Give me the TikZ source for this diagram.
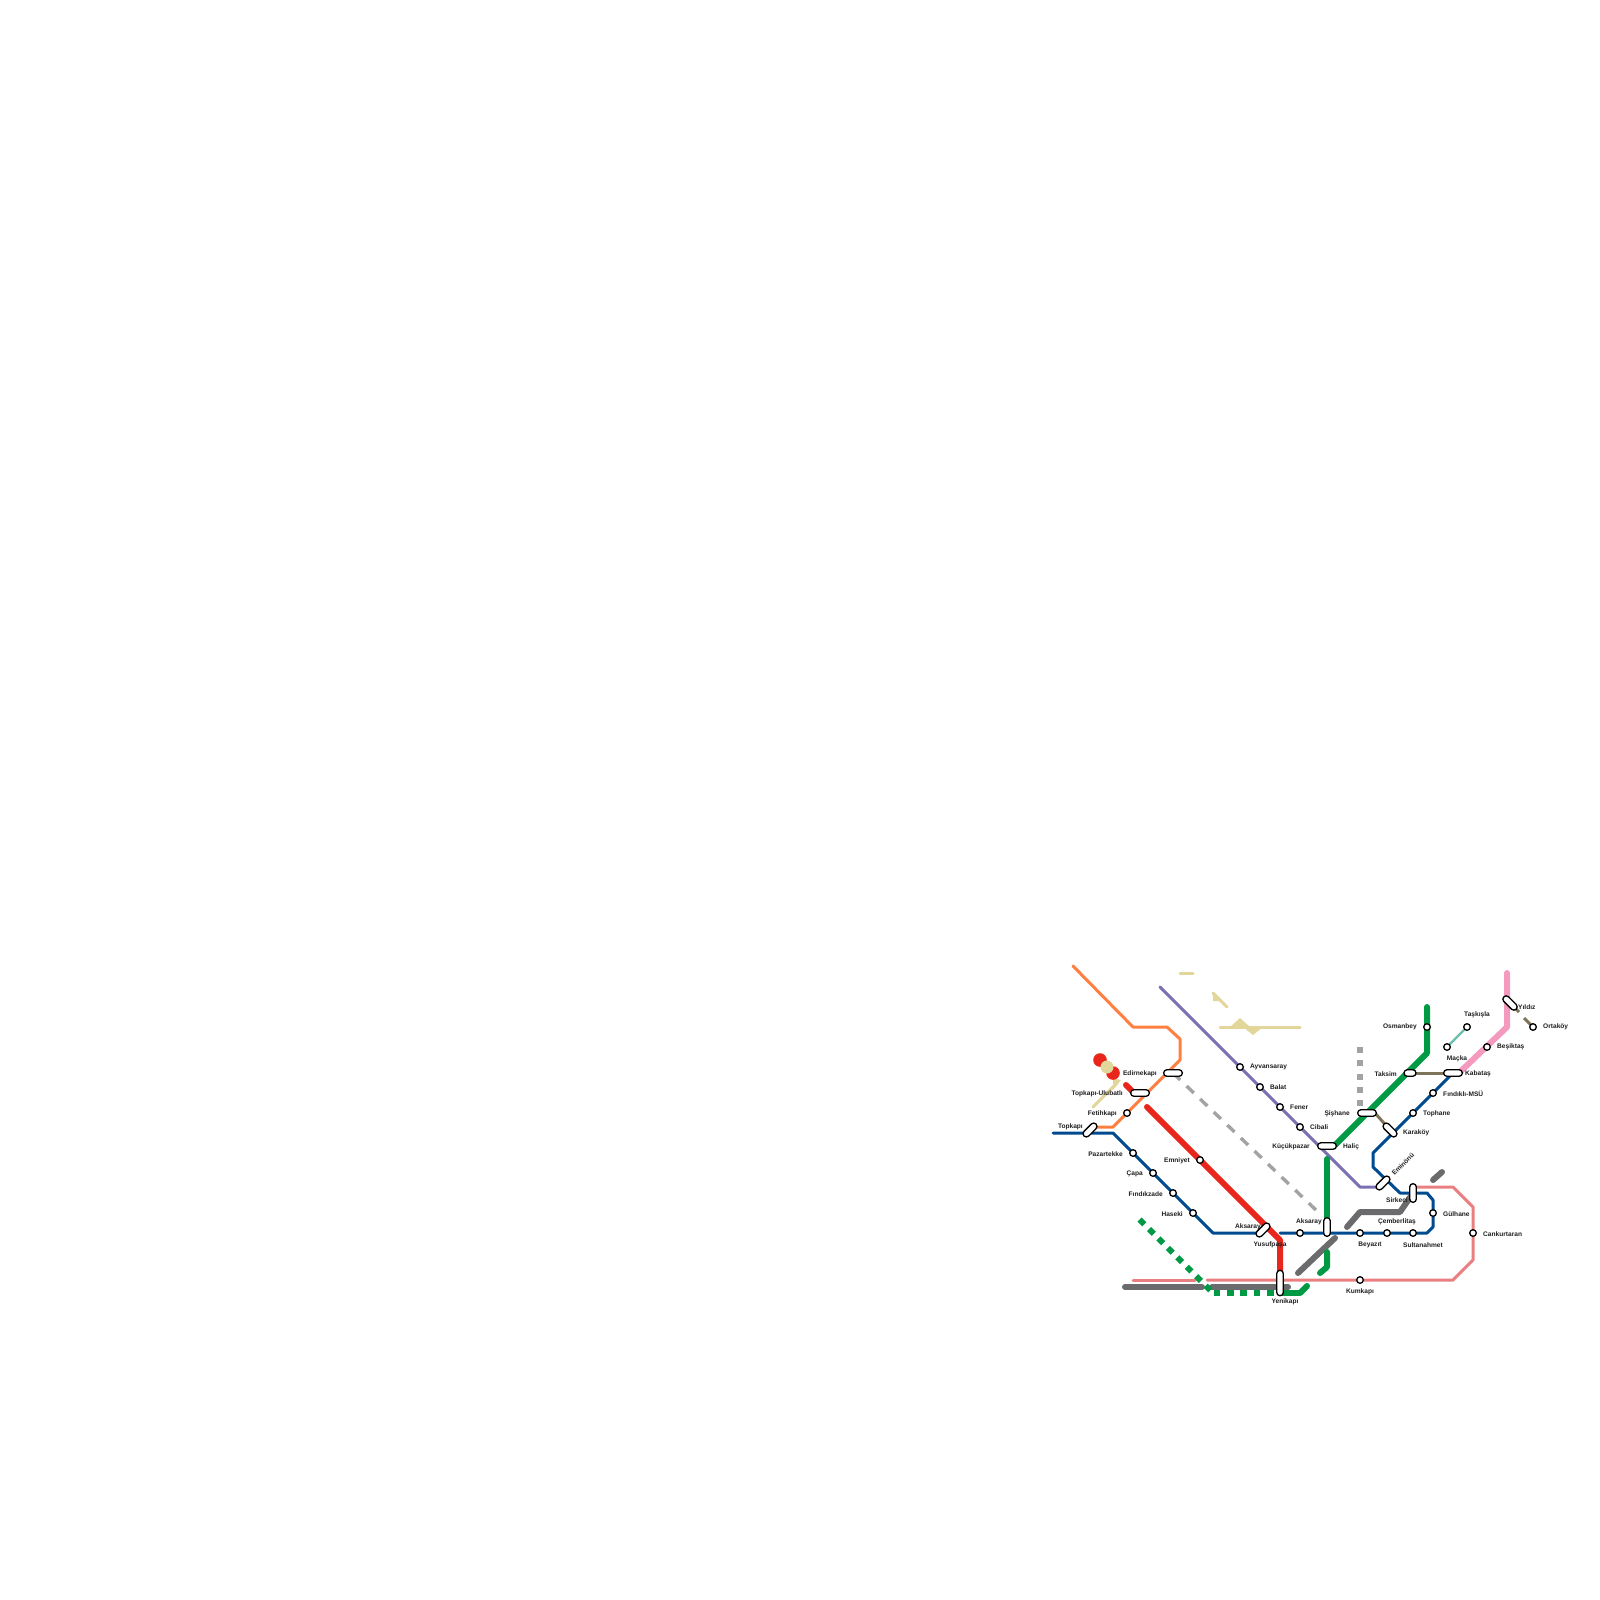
\documentclass[tikz,border=0pt]{standalone}
\usepackage{fontspec}
\setmainfont{Liberation Sans}
\usetikzlibrary{shapes.misc,backgrounds}
\definecolor{cblue}{HTML}{004A8F}
\definecolor{cgreen}{HTML}{009A44}
\definecolor{cred}{HTML}{E8261C}
\definecolor{corange}{HTML}{FF7F41}
\definecolor{cpurple}{HTML}{7A6FB0}
\definecolor{cpink}{HTML}{F59ABF}
\definecolor{csalmon}{HTML}{EA7F82}
\definecolor{cgrey}{HTML}{6B6B6E}
\definecolor{cdash}{HTML}{A3A3A3}
\definecolor{cbeige}{HTML}{E3D69A}
\definecolor{cbrown}{HTML}{7F7459}
\definecolor{cteal}{HTML}{6BBFB1}
\tikzset{
 stn/.style={circle,draw=black,fill=white,line width=1.3pt,minimum size=6.6pt,inner sep=0pt},
 capsule/.style={rounded rectangle,draw=black,fill=white,line width=1.3pt,minimum width=#1,minimum height=6.6pt,inner sep=0pt},
 lbl/.style={inner sep=0pt,yshift=-1pt,font=\fontsize{6.6}{7}\selectfont\bfseries,text=black!88},
 lr/.style={lbl,anchor=west},
 ll/.style={lbl,anchor=east},
 lc/.style={lbl,anchor=center},
 ln/.style={line cap=round,line join=round},
 orangeline/.style={ln,draw=corange,line width=3pt},
 blueline/.style={ln,draw=cblue,line width=3pt},
 purpleline/.style={ln,draw=cpurple,line width=3pt},
 salmonline/.style={ln,draw=csalmon,line width=3pt},
 brownline/.style={ln,draw=cbrown,line width=3pt},
 beigeline/.style={ln,draw=cbeige,line width=3pt},
 redline/.style={ln,draw=cred,line width=6pt},
 greenline/.style={ln,draw=cgreen,line width=6pt},
 greyline/.style={ln,draw=cgrey,line width=6pt},
 pinkline/.style={ln,draw=cpink,line width=6pt},
}
\begin{document}
\begin{tikzpicture}[x=1pt,y=-1pt]
\useasboundingbox (0,0) rectangle (1600,1600);
% stations
\node[stn] (ayv) at (1240,1067) {};
\node[stn] (bal) at (1260,1087) {};
\node[stn] (fen) at (1280,1107) {};
\node[stn] (cib) at (1300,1127) {};
\node[stn] (fet) at (1127,1113) {};
\node[stn] (paz) at (1133,1153) {};
\node[stn] (cap) at (1153,1173) {};
\node[stn] (fin) at (1173,1193) {};
\node[stn] (has) at (1193,1213) {};
\node[stn] (emn) at (1200,1160) {};
\node[stn] (aks) at (1300,1233) {};
\node[stn] (bey) at (1360,1233) {};
\node[stn] (cem) at (1387,1233) {};
\node[stn] (sul) at (1413,1233) {};
\node[stn] (gul) at (1433,1213) {};
\node[stn] (can) at (1473,1233) {};
\node[stn] (kum) at (1360,1280) {};
\node[stn] (top) at (1413,1113) {};
\node[stn] (fmsu) at (1433,1093) {};
\node[stn] (osm) at (1427,1027) {};
\node[stn] (tas) at (1467,1027) {};
\node[stn] (mac) at (1447,1047) {};
\node[stn] (bes) at (1487,1047) {};
\node[stn] (ort) at (1533,1027) {};
% interchanges
\node[capsule=18.7pt] (edi) at (1173,1073) {};
\node[capsule=18.7pt] (ulu) at (1140,1093) {};
\node[capsule=17pt,rotate=45] (tpk) at (1090,1130) {};
\node[capsule=17pt,rotate=45] (aksY) at (1263,1230) {};
\node[capsule=25.4pt,rotate=90] (yen) at (1280,1283) {};
\node[capsule=18.7pt,rotate=90] (aksM) at (1327,1227) {};
\node[capsule=18.7pt] (hal) at (1327,1146) {};
\node[capsule=18.7pt] (sis) at (1367,1113) {};
\node[capsule=17pt,rotate=-45] (kar) at (1390,1130) {};
\node[capsule=17pt,rotate=45] (emi) at (1383,1183) {};
\node[capsule=18.7pt,rotate=90] (sir) at (1413,1193) {};
\node[capsule=12pt] (tak) at (1410,1073) {};
\node[capsule=18.7pt] (kab) at (1453,1073) {};
\node[capsule=17.5pt,rotate=-45] (yil) at (1510,1003) {};
% free line ends
\coordinate (oS) at (1073,966);
\coordinate (oA) at (1133,1027);
\coordinate (oB) at (1167,1027);
\coordinate (oC) at (1180,1039);
\coordinate (oD) at (1180,1060);
\coordinate (oE) at (1113,1127);
\coordinate (pS) at (1160,987);
\coordinate (pA) at (1360,1187);
\coordinate (bS) at (1053,1133);
\coordinate (bA) at (1113,1133);
\coordinate (bB) at (1213,1233);
\coordinate (bC) at (1280,1233);
\coordinate (bD) at (1427,1233);
\coordinate (bE) at (1433,1227);
\coordinate (bF) at (1433,1200);
\coordinate (bG) at (1427,1193);
\coordinate (bH) at (1400,1193);
\coordinate (bI) at (1373,1167);
\coordinate (bJ) at (1373,1153);
\coordinate (rS) at (1147,1107);
\coordinate (rA) at (1280,1240);
\coordinate (rdA) at (1126,1085);
\coordinate (rdB) at (1134,1093);
\coordinate (sS) at (1133,1280);
\coordinate (sE) at (1195,1280);
\coordinate (sF) at (1207,1280);
\coordinate (sA) at (1453,1280);
\coordinate (sB) at (1473,1260);
\coordinate (sC) at (1473,1207);
\coordinate (sD) at (1453,1187);
\coordinate (gA) at (1427,1007);
\coordinate (gB) at (1427,1053);
\coordinate (gI) at (1335,1145);
\coordinate (gC) at (1327,1159);
\coordinate (gD) at (1327,1252);
\coordinate (gE) at (1327,1267);
\coordinate (gF) at (1320,1273);
\coordinate (gG) at (1300,1293);
\coordinate (gH) at (1307,1286);
\coordinate (dS) at (1139.6,1219.6);
\coordinate (dA) at (1211,1291);
\coordinate (dC) at (1213.7,1293);
\coordinate (dB) at (1274,1293);
\coordinate (grA) at (1298,1273);
\coordinate (grB) at (1335,1238);
\coordinate (grC) at (1347,1227);
\coordinate (grD) at (1360,1212);
\coordinate (grE) at (1400,1212);
\coordinate (grF) at (1442,1172);
\coordinate (grG) at (1433,1180);
\coordinate (grH) at (1125,1287);
\coordinate (grI) at (1202,1287);
\coordinate (grJ) at (1212,1287);
\coordinate (grK) at (1288,1287);
\coordinate (pkS) at (1507,973);
\coordinate (pkA) at (1507,1027);
\coordinate (pkB) at (1461,1071);
\coordinate (dgA) at (1317,1211);
\coordinate (sqA) at (1360,1047);
\coordinate (sqB) at (1360,1107);
\coordinate (ybA) at (1180,973);
\coordinate (ybB) at (1193,973);
\coordinate (ybC) at (1220,1027);
\coordinate (ybD) at (1300,1027);
\coordinate (ybE) at (1093,1107);
\coordinate (ybF) at (1117,1083);
\coordinate (ybG) at (1213,993);
\coordinate (ybH) at (1227,1007);
\coordinate (brB) at (1519,1012);
\coordinate (brC) at (1524,1018);
% lines
\begin{scope}[on background layer]
\draw[orangeline] (oS)--(oA)--(oB)--(oC)--(oD)--(oE)--(oE -| tpk.center);
\draw[purpleline] (pS)--(pA)--(pA -| emi.center);
\draw[blueline] (bS)--(bA)--(bB)--(bB -| aksY.center);
\draw[blueline] (bC)--(bD)--(bE)--(bF)--(bG)--(bH)--(bI)--(bJ)--(kab.center);
\draw[salmonline] (sS)--(sE);
\draw[salmonline] (sF)--(kum.center)--(sA)--(sB)--(sC)--(sD)--(sD -| sir.center);
\draw[draw=cdash,line width=3.4pt,dash pattern=on 10pt off 8.8pt] (edi.center)--(dgA);
\draw[draw=cdash,line width=6.5pt,dash pattern=on 6pt off 7.33pt] (sqA)--(sqB);
\draw[greyline] (grH)--(grI);
\draw[greyline] (grJ)--(grK);
\draw[greyline] (grA)--(grB);
\draw[greyline] (grC)--(grD)--(grE)--(sir.center);
\draw[greyline] (grG)--(grF);
\draw[draw=cgreen,line width=6pt,dash pattern=on 6.67pt off 6.67pt] (dS)--(dA);
\draw[draw=cgreen,line width=6pt,dash pattern=on 6.67pt off 6.67pt] (dC)--(dB);
\draw[greenline,line cap=butt] (yen.center |- gG)--(gG);
\draw[greenline] (gG)--(gH);
\draw[greenline] (gA)--(gB)--(gI);
\draw[greenline] (gC)--(aksM.center);
\draw[greenline] (gD)--(gE)--(gF);
\draw[redline] (rS)--(rA)--(yen.center);
\draw[ln,draw=cred,line width=6pt] (rdA)--(rdB);
\fill[cbeige] (1213,992)--(1213,1001)--(1219,1001)--cycle;
\draw[beigeline] (ybG)--(ybH);
\draw[beigeline] (ybA)--(ybB);
\draw[beigeline] (ybC)--(ybD);
\fill[cbeige] (1230,1027)--(1240,1018)--(1250,1027)--cycle;
\fill[cbeige] (1243,1027)--(1253,1035)--(1263,1027)--cycle;
\draw[beigeline] (ybE)--(ybF);
\fill[cbeige] (1113,1078)--(1121,1080)--(1113,1090)--cycle;
\fill[cred] (1100,1060) circle (6.8pt);
\fill[cred] (1113,1073) circle (6.8pt);
\fill[cbeige] (1107,1067) circle (6.5pt);
\draw[pinkline] (pkS)--(pkA)--(pkB);
\draw[brownline] (tak.center)--(kab.center);
\draw[brownline] (sis.center)--(1375,1113)--(kar.center);
\draw[brownline,line cap=butt] (yil.center)--(brB);
\draw[brownline,line cap=butt] (brC)--(ort.center);
\draw[ln,draw=cteal,line width=2.4pt] (tas.center)--(mac.center);
\end{scope}
% labels
\node[lr] (lAyv) at (1250,1066) {Ayvansaray};
\node[lr] (lBal) at (1270,1086) {Balat};
\node[lr] (lFen) at (1290,1106) {Fener};
\node[lr] (lCib) at (1310,1126) {Cibali};
\node[ll] (lKuc) at (1310,1146) {Küçükpazar};
\node[lr] (lHal) at (1343,1146) {Haliç};
\node[ll] (lEdi) at (1157,1073) {Edirnekapı};
\node[ll] (lUlu) at (1123,1093) {Topkapı-Ulubatlı};
\node[ll] (lFet) at (1117,1113) {Fetihkapı};
\node[ll] (lTpk) at (1083,1126) {Topkapı};
\node[ll] (lPaz) at (1123,1153) {Pazartekke};
\node[ll] (lCap) at (1143,1173) {Çapa};
\node[ll] (lFin) at (1163,1193) {Fındıkzade};
\node[ll] (lHas) at (1183,1213) {Haseki};
\node[ll] (lEmn) at (1190,1160) {Emniyet};
\node[ll] (lAks) at (1261,1226) {Aksaray};
\node[lc] (lYus) at (1270,1244) {Yusufpaşa};
\node[lc] (lYen) at (1285,1301) {Yenikapı};
\node[ll] (lAksM) at (1322,1221) {Aksaray};
\node[lc] (lBey) at (1370,1244) {Beyazıt};
\node[lc] (lSul) at (1423,1244) {Sultanahmet};
\node[lc] (lCem) at (1397,1221) {Çemberlitaş};
\node[lc] (lKum) at (1360,1291) {Kumkapı};
\node[ll] (lSir) at (1408,1199) {Sirkeci};
\node[lr] (lGul) at (1443,1213) {Gülhane};
\node[lr] (lCan) at (1483,1233) {Cankurtaran};
\node[lc,rotate=45] (lEmi) at (1403,1163) {Eminönü};
\node[lr] (lKar) at (1403,1132) {Karaköy};
\node[lr] (lTop) at (1423,1113) {Tophane};
\node[lr] (lFms) at (1443,1093) {Fındıklı-MSÜ};
\node[lr] (lKab) at (1465,1073) {Kabataş};
\node[ll] (lTak) at (1397,1073) {Taksim};
\node[ll] (lSis) at (1350,1113) {Şişhane};
\node[ll] (lOsm) at (1417,1026) {Osmanbey};
\node[lc] (lTas) at (1477,1014) {Taşkışla};
\node[lc] (lMac) at (1457,1058) {Maçka};
\node[lr] (lBes) at (1497,1046) {Beşiktaş};
\node[lr] (lYil) at (1518,1006) {Yıldız};
\node[lr] (lOrt) at (1543,1026) {Ortaköy};
\end{tikzpicture}
\end{document}
